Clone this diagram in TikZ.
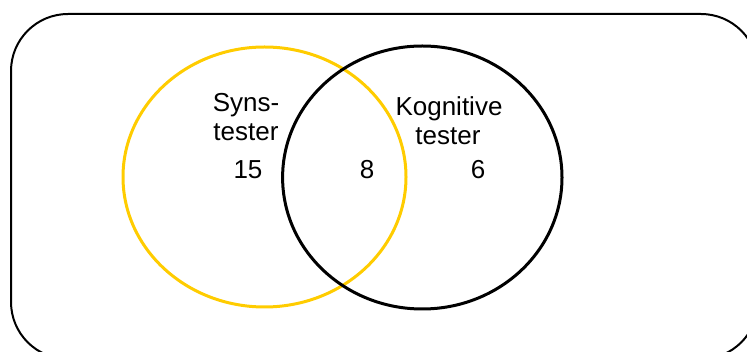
\documentclass[tikz,border=0pt]{standalone}
\usepackage{fontspec}
\setmainfont{Liberation Sans}
\definecolor{vgold}{RGB}{255,204,0}
\begin{document}
\begin{tikzpicture}[x=1pt,y=-1pt,
  lbl/.style={font=\fontsize{26}{31}\selectfont, inner sep=0pt, anchor=base},
  ring/.style={line width=3pt}]
\path[use as bounding box] (0,0) rectangle (747,352);
\begin{scope}
\clip (0,0) rectangle (747,352);
\draw[line width=2pt, rounded corners=57pt] (11,14) rectangle (758,359);
\end{scope}
\draw[ring, vgold] (264.5,177) ellipse [x radius=141.5, y radius=130];
\draw[ring, black] (422.3,177.5) ellipse [x radius=139.7, y radius=131.5];
\node[lbl] (syns) at (246,112) {Syns-};
\node[lbl] (tester1) at (246,141) {tester};
\node[lbl] (kog) at (449,116) {Kognitive};
\node[lbl] (tester2) at (448,145) {tester};
\node[lbl] (n15) at (248,179) {15};
\node[lbl] (n8) at (367,179) {8};
\node[lbl] (n6) at (478,179) {6};
\end{tikzpicture}
\end{document}
